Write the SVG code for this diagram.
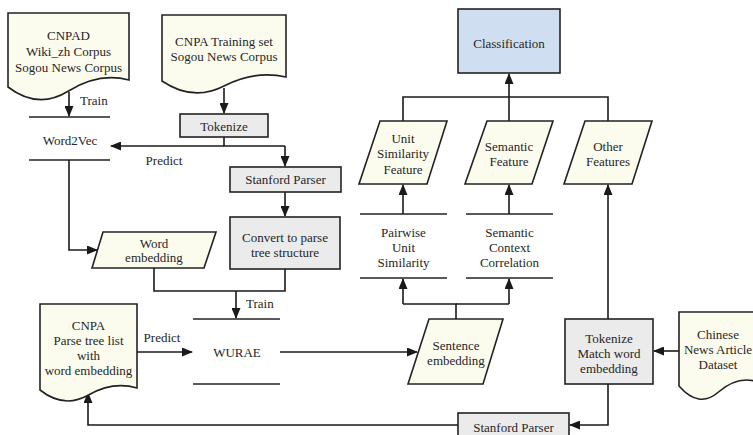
<svg xmlns="http://www.w3.org/2000/svg" width="753" height="435" viewBox="0 0 753 435">
<defs>
<marker id="ah" markerUnits="userSpaceOnUse" markerWidth="11" markerHeight="9" refX="10" refY="4.5" orient="auto">
<path d="M0,0 L11,4.5 L0,9 z" fill="#1a1a1a"/>
</marker>
<style>
.doc{fill:#fcfcee;stroke:#222;stroke-width:1.6}
.box{fill:#ebebeb;stroke:#222;stroke-width:1.6}
.cls{fill:#cfdff1;stroke:#222;stroke-width:1.6}
.para{fill:#fcfcee;stroke:#222;stroke-width:1.6}
.store{stroke:#222;stroke-width:1.6;fill:none}
.c{fill:none;stroke:#1a1a1a;stroke-width:1.6}
.a{marker-end:url(#ah)}
text{font-family:"Liberation Serif","Times New Roman",serif;font-size:13px;fill:#262626;text-anchor:middle}
.l{text-anchor:start}
</style>
</defs>
<rect width="753" height="435" fill="#fff"/>

<g id="connectors">
<path class="c a" d="M69,92 V116"/>
<path class="c a" d="M224,88 V113"/>
<path class="c" d="M224,137 V146 H285"/>
<path class="c a" d="M224,146 H111"/>
<path class="c a" d="M285,146 V166"/>
<path class="c a" d="M285,192 V216"/>
<path class="c a" d="M69,160 V250 H97"/>
<path class="c" d="M154,268 V291 H285 V269"/>
<path class="c a" d="M236,291 V318"/>
<path class="c a" d="M137,352 H192"/>
<path class="c a" d="M280,352 H417"/>
<path class="c" d="M456,319 V304 H403"/>
<path class="c" d="M456,304 H509"/>
<path class="c a" d="M403,304 V279"/>
<path class="c a" d="M509,304 V279"/>
<path class="c a" d="M403,214 V185"/>
<path class="c a" d="M509,214 V185"/>
<path class="c" d="M403,121 V97 H608 V121"/>
<path class="c a" d="M509,121 V74"/>
<path class="c a" d="M608,319 V185"/>
<path class="c a" d="M679,351 H654"/>
<path class="c a" d="M608,384 V425 H570"/>
<path class="c a" d="M458,425 H88 V393"/>
<text class="l" x="80" y="104.5">Train</text>
<text x="164" y="164.5">Predict</text>
<text class="l" x="246" y="307.5">Train</text>
<text x="162" y="341.5">Predict</text>
</g>

<g id="cnpad">
<path class="doc" d="M8,13 H129 V80 Q99,72 68.5,91 T8,87 Z"/>
<text x="68.5" y="39.5">CNPAD</text>
<text x="68.5" y="55.5">Wiki_zh Corpus</text>
<text x="68.5" y="71.5">Sogou News Corpus</text>
</g>

<g id="cnpa-training">
<path class="doc" d="M162,15 H286 V77 Q255,70 224,86 T162,81 Z"/>
<text x="224" y="46">CNPA Training set</text>
<text x="224" y="61">Sogou News Corpus</text>
</g>

<g id="tokenize">
<rect class="box" x="180" y="114" width="88" height="23"/>
<text x="224" y="130.5">Tokenize</text>
</g>

<g id="word2vec">
<line class="store" x1="29" y1="117" x2="110" y2="117"/>
<line class="store" x1="29" y1="160" x2="110" y2="160"/>
<text x="70" y="144.5">Word2Vec</text>
</g>

<g id="stanford-parser-1">
<rect class="box" x="230" y="167" width="111" height="25"/>
<text x="285.5" y="184">Stanford Parser</text>
</g>

<g id="convert">
<rect class="box" x="230" y="217" width="110" height="52"/>
<text x="285" y="241.5">Convert to parse</text>
<text x="285" y="256.5">tree structure</text>
</g>

<g id="word-embedding">
<path class="para" d="M103,232 H216 L204,268 H92 Z"/>
<text x="154" y="247.5">Word</text>
<text x="154" y="261.5">embedding</text>
</g>

<g id="wurae">
<line class="store" x1="193" y1="319" x2="280" y2="319"/>
<line class="store" x1="193" y1="384" x2="280" y2="384"/>
<text x="237" y="356.5">WURAE</text>
</g>

<g id="cnpa-parse-tree">
<path class="doc" d="M40,304 H137 V388 Q113,381 88.5,395 T40,390 Z"/>
<text x="88.5" y="329.5">CNPA</text>
<text x="88.5" y="344.5">Parse tree list</text>
<text x="88.5" y="359.5">with</text>
<text x="88.5" y="374.5">word embedding</text>
</g>

<g id="sentence-embedding">
<path class="para" d="M429,319 H503 L483,384 H408 Z"/>
<text x="456" y="349.5">Sentence</text>
<text x="456" y="364.5">embedding</text>
</g>

<g id="pairwise">
<line class="store" x1="360" y1="214" x2="447" y2="214"/>
<line class="store" x1="360" y1="278" x2="447" y2="278"/>
<text x="403.5" y="236.5">Pairwise</text>
<text x="403.5" y="251.5">Unit</text>
<text x="403.5" y="266.5">Similarity</text>
</g>

<g id="semantic-context">
<line class="store" x1="466" y1="214" x2="553" y2="214"/>
<line class="store" x1="466" y1="278" x2="553" y2="278"/>
<text x="509.5" y="236.5">Semantic</text>
<text x="509.5" y="251.5">Context</text>
<text x="509.5" y="266.5">Correlation</text>
</g>

<g id="unit-similarity-feature">
<path class="para" d="M380,121 H447 L427,184 H359 Z"/>
<text x="403" y="142.5">Unit</text>
<text x="403" y="158">Similarity</text>
<text x="403" y="173.5">Feature</text>
</g>

<g id="semantic-feature">
<path class="para" d="M487,121 H553 L532,184 H465 Z"/>
<text x="509" y="150.5">Semantic</text>
<text x="509" y="165.5">Feature</text>
</g>

<g id="other-features">
<path class="para" d="M585,121 H652 L632,184 H564 Z"/>
<text x="608" y="150.5">Other</text>
<text x="608" y="165.5">Features</text>
</g>

<g id="classification">
<rect class="cls" x="458" y="9" width="102" height="64"/>
<text x="509" y="47.5">Classification</text>
</g>

<g id="tokenize-match">
<rect class="box" x="565" y="319" width="88" height="65"/>
<text x="609" y="342.5">Tokenize</text>
<text x="609" y="357.5">Match word</text>
<text x="609" y="372.5">embedding</text>
</g>

<g id="chinese-news">
<path class="doc" d="M679,312 H758 V382 Q738,375 718.5,392 T679,386 Z"/>
<text x="718" y="338.5">Chinese</text>
<text x="718" y="353.5">News Article</text>
<text x="718" y="368.5">Dataset</text>
</g>

<g id="stanford-parser-2">
<rect class="box" x="458" y="413" width="111" height="25"/>
<text x="513.5" y="431.5">Stanford Parser</text>
</g>
</svg>
